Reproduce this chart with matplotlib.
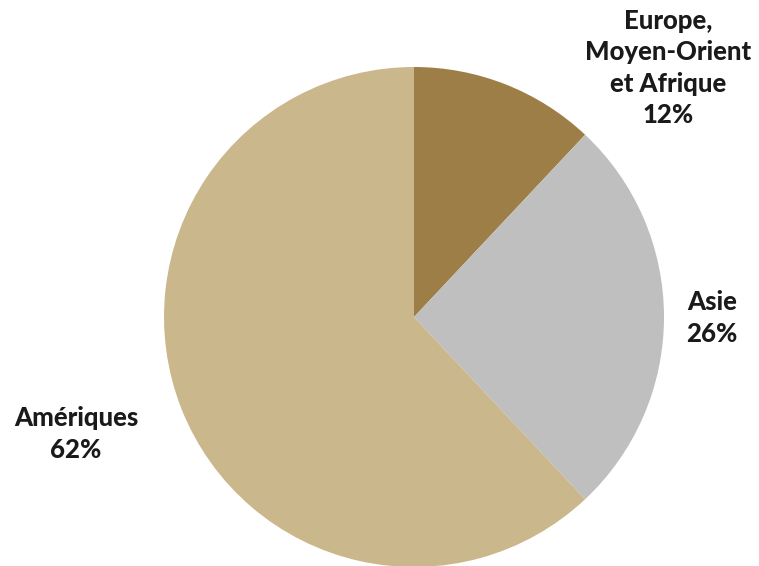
import matplotlib.pyplot as plt

labels = ["Europe,\nMoyen-Orient\net Afrique", "Asie", "Amériques"]
shares = [12, 26, 62]
colors = ["#9C7E46", "#BFBFBF", "#CBB78C"]
label_pos = [(668, 68), (712, 318), (76, 434)]

W, H = 759, 566
fig = plt.figure(figsize=(W / 100, H / 100), dpi=100)
ax = fig.add_axes([0, 0, 1, 1])

ax.pie(shares, colors=colors, startangle=90, counterclock=False,
       center=(414, H - 317), radius=250, frame=True,
       wedgeprops=dict(linewidth=0))
ax.set_xlim(0, W)
ax.set_ylim(0, H)
ax.set_aspect("equal")
ax.axis("off")

for lab, val, (x, y) in zip(labels, shares, label_pos):
    ax.text(x, H - y, f"{lab}\n{val}%", ha="center", va="center",
            fontsize=18.5, fontweight="black", family="Lato",
            color="#1a1a1a", linespacing=1.38)

fig.savefig("out.png", dpi=100)
